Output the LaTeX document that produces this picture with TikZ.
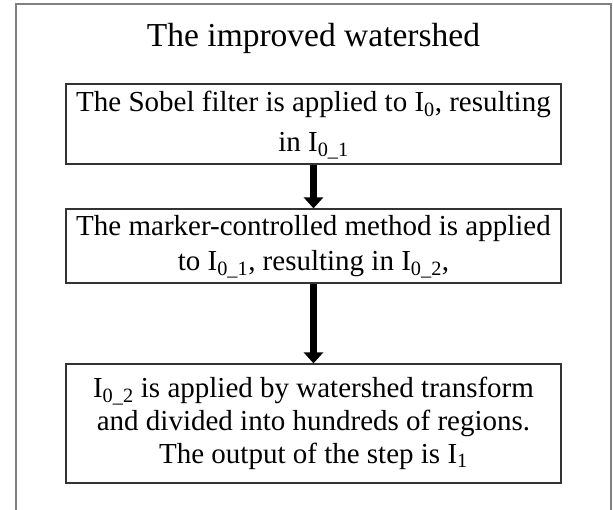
\documentclass[tikz,border=0pt]{standalone}
\usepackage{fontspec}
\setmainfont{Liberation Serif}
\usetikzlibrary{arrows.meta}

\begin{document}
\begin{tikzpicture}[x=1pt,y=-1pt,
  stepbox/.style={draw=black!80,line width=1.2pt,minimum width=495pt,align=center,inner sep=0pt},
  flow/.style={line width=7pt,-{Triangle[width=19pt,length=11pt]}}]
\useasboundingbox (0,0) rectangle (613,510);
\draw[gray,line width=1.5pt] (16,515) -- (16,4) -- (611,4) -- (611,515); % khung ngoài
\node[anchor=base] (title) at (313.5,47) {\fontsize{33.5}{40}\selectfont The improved watershed}; % tiêu đề
\node[stepbox,minimum height=74pt,font=\fontsize{29}{40}\selectfont] (sobel) at (313.5,124) {\strut The Sobel filter is applied to I\textsubscript{0}, resulting\\ in I\textsubscript{0\_1}\strut}; % bước 1
\node[stepbox,minimum height=74pt,font=\fontsize{29}{35}\selectfont] (marker) at (313.5,246) {\strut The marker-controlled method is applied\\ to I\textsubscript{0\_1}, resulting in I\textsubscript{0\_2},\strut}; % bước 2
\node[stepbox,minimum height=119pt,font=\fontsize{29}{33}\selectfont] (shed) at (313.5,423.5) {\strut I\textsubscript{0\_2} is applied by watershed transform\\ and divided into hundreds of regions.\\ The output of the step is I\textsubscript{1}\strut}; % bước 3
\draw[flow] (sobel) -- (marker);
\draw[flow] (marker) -- (shed);
\end{tikzpicture}
\end{document}
